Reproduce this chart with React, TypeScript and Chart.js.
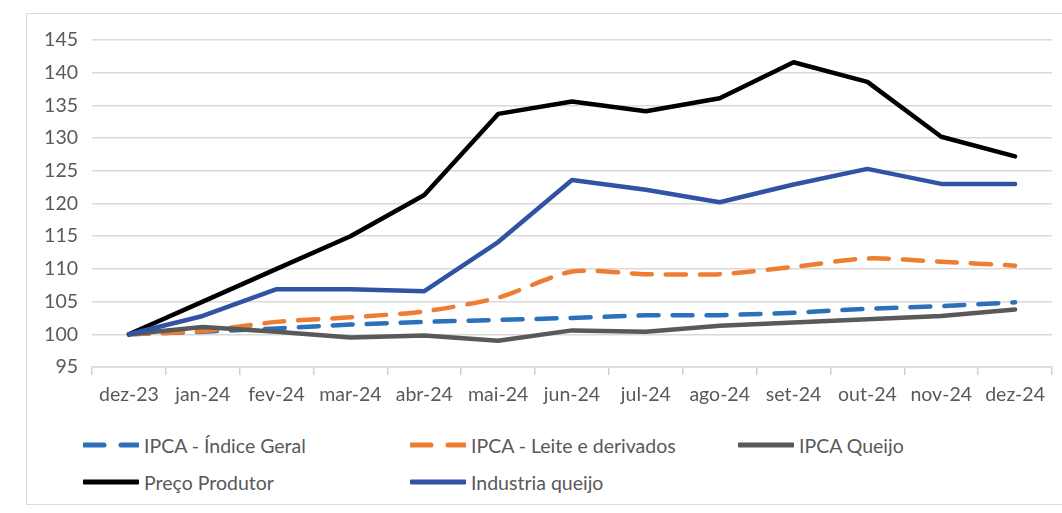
import React, { useEffect, useRef } from "react";
import { Chart, registerables } from "chart.js";

Chart.register(...registerables);

const categories = ["dez-23", "jan-24", "fev-24", "mar-24", "abr-24", "mai-24", "jun-24", "jul-24", "ago-24", "set-24", "out-24", "nov-24", "dez-24"];
const ipcaGeral = [100, 100.4, 100.9, 101.5, 101.9, 102.2, 102.5, 102.9, 102.9, 103.3, 103.9, 104.3, 104.9];
const ipcaLeite = [100, 100.5, 101.9, 102.6, 103.5, 105.6, 109.6, 109.2, 109.2, 110.3, 111.6, 111.1, 110.5];
const ipcaQueijo = [100, 101.1, 100.4, 99.5, 99.8, 99.0, 100.6, 100.4, 101.3, 101.8, 102.3, 102.8, 103.8];
const precoProdutor = [100, 105.0, 110.0, 115.0, 121.3, 133.7, 135.6, 134.1, 136.1, 141.6, 138.6, 130.2, 127.2];
const industriaQueijo = [100, 102.8, 106.9, 106.9, 106.6, 114.1, 123.6, 122.1, 120.2, 122.9, 125.3, 123.0, 123.0];
const yMin = 95;
const yMax = 145;
const yStep = 5;

const seriesNames = ["IPCA - Índice Geral", "IPCA - Leite e derivados", "IPCA Queijo", "Preço Produtor", "Industria queijo"];
const seriesColors = ["#2b70b8", "#ed7d31", "#595959", "#000000", "#3153a3"];
const seriesDashed = [true, true, false, false, false];

const FONT = "Lato, 'Open Sans', sans-serif";
const TEXT = "#595959";

function LegendItem({ idx, left, top }: { idx: number; left: number; top: number }) {
  const color = seriesColors[idx];
  return (
    <div style={{ position: "absolute", left, top, height: 24, display: "flex", alignItems: "center" }}>
      <svg width={56} height={10} style={{ display: "block" }}>
        <line
          x1={1}
          y1={5}
          x2={55}
          y2={5}
          stroke={color}
          strokeWidth={5}
          strokeLinecap="round"
          strokeDasharray={seriesDashed[idx] ? "20 17" : undefined}
        />
      </svg>
      <span style={{ marginLeft: 5, fontFamily: FONT, fontSize: 19.5, color: TEXT, whiteSpace: "nowrap" }}>
        {seriesNames[idx]}
      </span>
    </div>
  );
}

export default function App() {
  const canvasRef = useRef<HTMLCanvasElement | null>(null);

  useEffect(() => {
    if (!canvasRef.current) return;
    const values = [ipcaGeral, ipcaLeite, ipcaQueijo, precoProdutor, industriaQueijo];
    const chart = new Chart(canvasRef.current, {
      type: "line",
      data: {
        labels: categories,
        datasets: values.map((v, i) => ({
          label: seriesNames[i],
          data: v,
          borderColor: seriesColors[i],
          backgroundColor: seriesColors[i],
          borderWidth: 4.5,
          borderDash: seriesDashed[i] ? [20, 14] : [],
          borderCapStyle: "round" as const,
          borderJoinStyle: "round" as const,
          pointRadius: 0,
          tension: i === 1 ? 0.25 : 0,
          order: 5 - i,
          fill: false,
        })),
      },
      options: {
        responsive: false,
        animation: false,
        devicePixelRatio: 1,
        layout: { padding: { left: 0, right: 10, top: 40, bottom: 0 } },
        plugins: { legend: { display: false }, tooltip: { enabled: false } },
        scales: {
          x: {
            type: "category",
            offset: true,
            grid: {
              display: true,
              offset: true,
              drawOnChartArea: false,
              drawTicks: true,
              tickLength: 8,
              color: "#d0d0d0",
              lineWidth: 1.5,
            },
            border: { display: true, color: "#d9d9d9", width: 1.5 },
            ticks: {
              color: TEXT,
              font: { family: FONT, size: 19.5 },
              padding: 8,
              maxRotation: 0,
              autoSkip: false,
            },
            afterFit: (scale: any) => {
              scale.height = 53;
            },
          },
          y: {
            min: yMin,
            max: yMax,
            grid: { color: "#d9d9d9", lineWidth: 1.5, drawTicks: false },
            border: { display: false },
            ticks: {
              stepSize: yStep,
              color: TEXT,
              font: { family: FONT, size: 19.5 },
              padding: 14,
            },
            afterFit: (scale: any) => {
              scale.width = 92;
            },
          },
        },
      },
    });
    return () => chart.destroy();
  }, []);

  return (
    <div style={{ position: "fixed", left: 0, top: 0, width: 1062, height: 513, background: "#ffffff", overflow: "hidden" }}>
      <div
        style={{
          position: "absolute",
          left: 26,
          top: 13,
          width: 1100,
          height: 492,
          border: "1px solid #d9d9d9",
          boxSizing: "border-box",
        }}
      />
      <canvas ref={canvasRef} width={1062} height={420} style={{ position: "absolute", left: 0, top: 0 }} />
      <LegendItem idx={0} left={83} top={433} />
      <LegendItem idx={1} left={410} top={433} />
      <LegendItem idx={2} left={738} top={433} />
      <LegendItem idx={3} left={83} top={470} />
      <LegendItem idx={4} left={410} top={470} />
    </div>
  );
}
